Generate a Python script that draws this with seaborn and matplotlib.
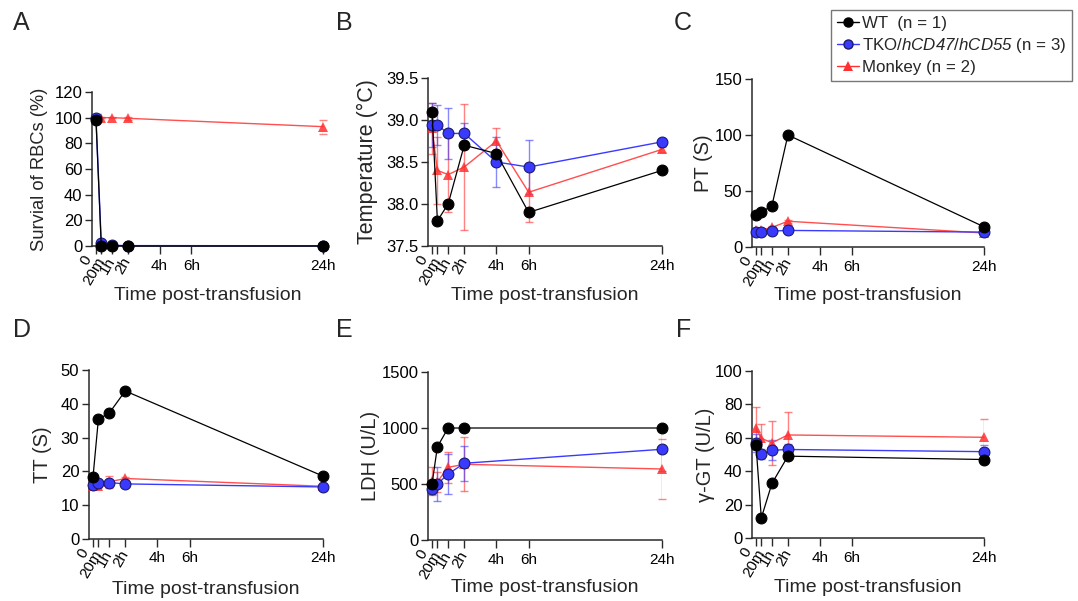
import numpy as np
import pandas as pd
import matplotlib
matplotlib.use("Agg")
import matplotlib.pyplot as plt
import matplotlib.transforms as mtransforms
from matplotlib.lines import Line2D
import seaborn as sns

# ---------------- data ----------------
tick_hours = [0, 20 / 60, 1, 2, 4, 6, 24]
tick_labels = ["0", "20m", "1h", "2h", "4h", "6h", "24h"]
tick_rotated = [True, True, True, True, False, False, False]

times5 = [0, 20 / 60, 1, 2, 24]
times7 = [0, 20 / 60, 1, 2, 4, 6, 24]

# A: survival of RBCs (%)
surv_wt = [98.5, 0.0, 0.3, 0.0, 0.0]
surv_tko = [100, 2.0, 0.5, 0.3, 0.2]
surv_tko_sd = [0.5, 1.0, 0.3, 0.2, 0.1]
surv_mk = [100, 100, 100, 99.5, 93]
surv_mk_sd = [0.5, 0.5, 0.5, 1.0, 5.5]

# B: temperature (°C)
temp_wt = [39.1, 37.8, 38.0, 38.7, 38.6, 37.9, 38.4]
temp_tko = [38.94, 38.94, 38.84, 38.84, 38.5, 38.44, 38.74]
temp_tko_sd = [0.26, 0.24, 0.3, 0.13, 0.3, 0.32, 0.03]
temp_mk = [38.9, 38.4, 38.35, 38.44, 38.75, 38.14, 38.65]
temp_mk_sd = [0.3, 0.4, 0.45, 0.75, 0.15, 0.35, 0.03]

# C: PT (S)
pt_wt = [29, 31, 37, 100, 18]
pt_tko = [13, 13, 14.2, 14.8, 13.3]
pt_tko_sd = [0.5, 0.5, 1.0, 1.0, 0.5]
pt_mk = [15, 15, 17.5, 23, 12.5]
pt_mk_sd = [1.0, 1.0, 1.0, 1.5, 1.0]

# D: TT (S)
tt_wt = [18.4, 35.5, 37.2, 43.8, 18.6]
tt_tko = [16.0, 16.5, 16.7, 16.3, 15.4]
tt_tko_sd = [0.4, 0.5, 0.6, 0.4, 0.4]
tt_mk = [15.8, 15.8, 16.9, 17.9, 15.6]
tt_mk_sd = [0.8, 0.8, 1.8, 0.5, 1.0]

# E: LDH (U/L)
ldh_wt = [500, 833, 1000, 1000, 1000]
ldh_tko = [452, 500, 589, 685, 810]
ldh_tko_sd = [40, 150, 180, 157, 190]
ldh_mk = [530, 520, 649, 676, 634]
ldh_mk_sd = [125, 88, 140, 240, 268]

# F: gamma-GT (U/L)
ggt_wt = [55.7, 12, 32.7, 49, 47]
ggt_tko = [57, 50.3, 52.5, 53, 51.7]
ggt_tko_sd = [5.5, 3, 6, 3, 4]
ggt_mk = [65.7, 59.7, 57, 61.7, 60.3]
ggt_mk_sd = [12.5, 8.3, 13, 13.5, 11]

series_names = ["WT  (n = 1)",
                "TKO/$hCD47$/$hCD55$ (n = 3)",
                "Monkey (n = 2)"]

# ---------------- style ----------------
sns.set_theme(style="ticks")
plt.rcParams["font.family"] = ["Liberation Sans", "DejaVu Sans"]
plt.rcParams["mathtext.fontset"] = "custom"
# only the gene names in the legend use mathtext: render them fully italic
plt.rcParams["mathtext.rm"] = "Liberation Sans:italic"
plt.rcParams["mathtext.it"] = "Liberation Sans:italic"
plt.rcParams["axes.linewidth"] = 1.1
plt.rcParams["axes.edgecolor"] = "#2a2a2a"

C_WT = "#000000"
C_TKO = "#3a3aff"
C_MK = "#ff3030"

W, H = 1078, 601
fig = plt.figure(figsize=(W / 100, H / 100), dpi=100)

K = 0.46


def fwd(x):
    x = np.asarray(x, dtype=float)
    return np.where(x <= 6, x, 6 + (x - 6) * K)


def inv(y):
    y = np.asarray(y, dtype=float)
    return np.where(y <= 6, y, 6 + (y - 6) / K)


def make_axes(left, top, right, bottom):
    return fig.add_axes([left / W, 1 - bottom / H, (right - left) / W, (bottom - top) / H])


def panel(box, times, wt, tko, tko_sd, mk, mk_sd, ylim, yticks, ylabel,
          ylabel_right, xlabel_y, ylabel_size=14.5, ytickfmt=None):
    ax = make_axes(*box)
    ax.set_xscale("function", functions=(fwd, inv))
    # error bars
    ax.errorbar(times, mk, yerr=mk_sd, fmt="none", ecolor=C_MK, elinewidth=1.0,
                capsize=3.2, capthick=1.0, alpha=0.6, zorder=2)
    ax.errorbar(times, tko, yerr=tko_sd, fmt="none", ecolor=C_TKO, elinewidth=1.0,
                capsize=3.2, capthick=1.0, alpha=0.6, zorder=3)
    df_mk = pd.DataFrame({"t": times, "v": mk})
    df_tko = pd.DataFrame({"t": times, "v": tko})
    df_wt = pd.DataFrame({"t": times, "v": wt})
    sns.lineplot(data=df_mk, x="t", y="v", ax=ax, color=C_MK, marker="^",
                 markersize=7.5, markeredgewidth=0, linewidth=1.0, alpha=0.85,
                 errorbar=None, legend=False, zorder=4)
    sns.lineplot(data=df_tko, x="t", y="v", ax=ax, color=C_TKO, marker="o",
                 markersize=7.8, markeredgecolor="#1a1a6e", markeredgewidth=0.8,
                 linewidth=1.0, errorbar=None, legend=False, zorder=5)
    sns.lineplot(data=df_wt, x="t", y="v", ax=ax, color=C_WT, marker="o",
                 markersize=7.8, markeredgecolor="#000000", markeredgewidth=0.8,
                 linewidth=0.9, errorbar=None, legend=False, zorder=6)
    for ln in ax.lines:
        ln.set_clip_on(False)
    ax.set_xlim(-0.25, 24)
    ax.set_ylim(*ylim)
    ax.set_yticks(yticks)
    if ytickfmt:
        ax.set_yticklabels([ytickfmt.format(v) for v in yticks])
    ax.set_xticks(tick_hours)
    ax.set_xticklabels(tick_labels)
    ax.tick_params(axis="x", length=6, width=1.0, labelsize=11, pad=3, colors="#2a2a2a",
                   labelcolor="black")
    ax.tick_params(axis="y", length=5, width=1.0, labelsize=12, pad=2, colors="#2a2a2a",
                   labelcolor="black")
    for i, (lbl, rot) in enumerate(zip(ax.get_xticklabels(), tick_rotated)):
        if rot:
            lbl.set_rotation(60)
            lbl.set_ha("right")
            lbl.set_va("center")
            lbl.set_rotation_mode("anchor")
        if i == 0:
            lbl.set_transform(lbl.get_transform() +
                              mtransforms.ScaledTranslation(-0.08, 0.02, fig.dpi_scale_trans))
    ax.minorticks_off()
    sns.despine(ax=ax)
    ax.set_xlabel("Time post-transfusion", fontsize=14, va="center")
    height = box[3] - box[1]
    ax.xaxis.set_label_coords(0.5, (box[3] - xlabel_y) / height)
    ax.set_ylabel(ylabel, fontsize=ylabel_size)
    width = box[2] - box[0]
    ax.yaxis.set_label_coords((ylabel_right - box[0]) / width, 0.5)
    ax.patch.set_alpha(0)
    return ax


axA = panel((92, 92, 323, 246), times5, surv_wt, surv_tko, surv_tko_sd, surv_mk, surv_mk_sd,
            (0, 120), [0, 20, 40, 60, 80, 100, 120], "Survial of RBCs (%)", 48, 295, 13.2)
axB = panel((428, 78, 662, 246), times7, temp_wt, temp_tko, temp_tko_sd, temp_mk, temp_mk_sd,
            (37.5, 39.5), [37.5, 38.0, 38.5, 39.0, 39.5], "Temperature (°C)", 378, 295, 15.5,
            "{:.1f}")
axC = panel((752, 79, 984, 247), times5, pt_wt, pt_tko, pt_tko_sd, pt_mk, pt_mk_sd,
            (0, 150), [0, 50, 100, 150], "PT (S)", 713, 295)
axD = panel((89, 370, 323, 539), times5, tt_wt, tt_tko, tt_tko_sd, tt_mk, tt_mk_sd,
            (0, 50), [0, 10, 20, 30, 40, 50], "TT (S)", 52, 589)
axE = panel((428, 372, 662, 540), times5, ldh_wt, ldh_tko, ldh_tko_sd, ldh_mk, ldh_mk_sd,
            (0, 1500), [0, 500, 1000, 1500], "LDH (U/L)", 380, 588)
axF = panel((752, 371, 984, 538), times5, ggt_wt, ggt_tko, ggt_tko_sd, ggt_mk, ggt_mk_sd,
            (0, 100), [0, 20, 40, 60, 80, 100], "γ-GT (U/L)", 715, 588)

# panel letters
for letter, px, py in [("A", 13, 23), ("B", 336, 23), ("C", 674, 23),
                       ("D", 13, 330), ("E", 336, 330), ("F", 676, 330)]:
    fig.text(px / W, 1 - py / H, letter, fontsize=18, ha="left", va="center")

# legend
handles = [
    Line2D([], [], color=C_WT, marker="o", markersize=6.5, markeredgecolor="black",
           linewidth=1.0),
    Line2D([], [], color=C_TKO, marker="o", markersize=6.5, markeredgecolor="#1a1a6e",
           linewidth=1.0),
    Line2D([], [], color=C_MK, marker="^", markersize=6.5, markeredgewidth=0, linewidth=1.0),
]
leg = fig.legend(handles, series_names, loc="upper right",
                 bbox_to_anchor=(1072 / W, 1 - 10 / H), borderaxespad=0,
                 fontsize=12.2, frameon=True, fancybox=False, edgecolor="#555555",
                 handlelength=1.3, handletextpad=0.2, labelspacing=0.3,
                 borderpad=0.35)
leg.get_frame().set_linewidth(1.0)

fig.savefig("out.png", dpi=100)
